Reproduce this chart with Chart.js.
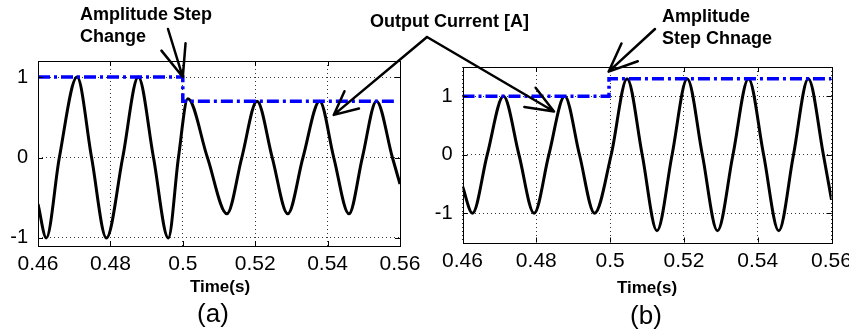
<!DOCTYPE html>
<html>
<head>
<meta charset="utf-8">
<script src="https://cdn.jsdelivr.net/npm/chart.js@4.4.1/dist/chart.umd.min.js"></script>
<style>
  html, body { margin: 0; padding: 0; background: #fff; }
  #wrap { position: relative; width: 849px; height: 335px; overflow: hidden; background: #fff; }
  #wrap canvas { position: absolute; left: 0; top: 0; }
</style>
</head>
<body>
<div id="wrap">
  <canvas id="chartA" width="849" height="335"></canvas>
  <canvas id="chartB" width="849" height="335"></canvas>
  <canvas id="notes" width="849" height="335"></canvas>
</div>
<script>
var timeTicks = [0.46, 0.48, 0.5, 0.52, 0.54, 0.56];
var timeTickLabels = ['0.46', '0.48', '0.5', '0.52', '0.54', '0.56'];
var currentTicks = [-1, 0, 1];

// (a) amplitude steps down at t = 0.5 s
var timeA = [0.46, 0.4623, 0.4659, 0.4708, 0.4748, 0.4789, 0.4834, 0.4877, 0.4919, 0.4960,
             0.4988, 0.5014, 0.5068, 0.5122, 0.5163, 0.5205, 0.5247, 0.5290, 0.5332, 0.5378,
             0.5417, 0.5459, 0.5496, 0.5535, 0.5579, 0.56];
var currentA = [-0.58, -1.0, 0, 1.0, 0, -1.0, 0, 1.0, 0, -1.0,
                0, 0.73, 0, -0.70, 0, 0.70, 0, -0.70, 0, 0.70,
                0, -0.70, 0, 0.70, 0, -0.33];
var refTimeA = [0.46, 0.5, 0.5, 0.559];
var refA = [1, 1, 0.7, 0.7];

// (b) amplitude steps up at t = 0.5 s
var timeB = [0.46, 0.4627, 0.4667, 0.4711, 0.4753, 0.4794, 0.4834, 0.4877, 0.4917, 0.4958,
             0.5003, 0.5046, 0.5087, 0.5127, 0.5168, 0.5209, 0.5250, 0.5291, 0.5333, 0.5375,
             0.5416, 0.5457, 0.5497, 0.5537, 0.5578, 0.56];
var currentB = [-0.54, -1.0, 0, 1.0, 0, -1.0, 0, 1.0, 0, -1.0,
                0, 1.3, 0, -1.3, 0, 1.3, 0, -1.3, 0, 1.3,
                0, -1.3, 0, 1.3, 0, -0.77];
var refTimeB = [0.46, 0.4997, 0.4997, 0.56];
var refB = [1, 1, 1.3, 1.3];

var FONT = 'Arial, "Liberation Sans", sans-serif';

function points(xs, ys) {
    return xs.map(function(x, i) { return { x: x, y: ys[i] }; });
}

// matlab style box with inward ticks
var frame = {
    id: 'frame',
    afterDraw: function(chart) {
        var ctx = chart.ctx, a = chart.chartArea;
        var sx = chart.scales.x, sy = chart.scales.y;
        ctx.save();
        ctx.strokeStyle = '#000';
        ctx.lineWidth = 1;
        ctx.strokeRect(Math.round(a.left) + 0.5, Math.round(a.top) + 0.5,
                       Math.round(a.right - a.left), Math.round(a.bottom - a.top));
        ctx.beginPath();
        timeTicks.forEach(function(t) {
            var x = Math.round(sx.getPixelForValue(t)) + 0.5;
            ctx.moveTo(x, a.bottom); ctx.lineTo(x, a.bottom - 5);
            ctx.moveTo(x, a.top); ctx.lineTo(x, a.top + 5);
        });
        currentTicks.forEach(function(v) {
            var y = Math.round(sy.getPixelForValue(v)) + 0.5;
            ctx.moveTo(a.left, y); ctx.lineTo(a.left + 5, y);
            ctx.moveTo(a.right, y); ctx.lineTo(a.right - 5, y);
        });
        ctx.stroke();
        ctx.restore();
    }
};

function makeChart(id, t, i, rt, r, yMin, yMax, box) {
    return new Chart(document.getElementById(id), {
        type: 'line',
        data: {
            datasets: [{
                data: points(rt, r),
                borderColor: '#0000ff',
                borderWidth: 3.5,
                borderDash: [12, 4, 3, 4],
                pointRadius: 0,
                tension: 0
            }, {
                data: points(t, i),
                borderColor: '#000',
                borderWidth: 3,
                pointRadius: 0,
                cubicInterpolationMode: 'monotone'
            }]
        },
        plugins: [frame],
        options: {
            responsive: false,
            animation: false,
            devicePixelRatio: 1,
            layout: { padding: { left: box.padLeft, top: box.top, right: box.padRight, bottom: 0 } },
            plugins: { legend: { display: false }, tooltip: { enabled: false } },
            scales: {
                x: {
                    type: 'linear',
                    min: 0.46,
                    max: 0.56,
                    afterBuildTicks: function(s) {
                        s.ticks = timeTicks.map(function(v) { return { value: v }; });
                    },
                    afterFit: function(s) {
                        s.height = box.xHeight;
                        s.paddingLeft = 0; s.paddingRight = 0;
                    },
                    ticks: {
                        callback: function(v) { return timeTickLabels[timeTicks.indexOf(v)]; },
                        font: { family: FONT, size: 21 },
                        color: '#000',
                        padding: 6,
                        maxRotation: 0,
                        autoSkip: false
                    },
                    grid: { color: '#333', drawTicks: false },
                    border: { display: false, dash: [1, 3] }
                },
                y: {
                    min: yMin,
                    max: yMax,
                    afterBuildTicks: function(s) {
                        s.ticks = currentTicks.map(function(v) { return { value: v }; });
                    },
                    afterFit: function(s) {
                        s.width = box.yWidth;
                        s.paddingTop = 0; s.paddingBottom = 0;
                    },
                    ticks: {
                        font: { family: FONT, size: 20 },
                        color: '#000',
                        padding: 10
                    },
                    grid: { color: '#333', drawTicks: false },
                    border: { display: false, dash: [1, 3] }
                }
            }
        }
    });
}

var chartA = makeChart('chartA', timeA, currentA, refTimeA, refA, -1.1, 1.2,
    { padLeft: 0, padRight: 449, top: 61, xHeight: 89, yWidth: 38 });
var chartB = makeChart('chartB', timeB, currentB, refTimeB, refB, -1.5, 1.5,
    { padLeft: 420, padRight: 17.5, top: 67, xHeight: 92.5, yWidth: 42.5 });

// annotations: text and arrows, tips placed in data space
function px(chart, x, y) {
    return [chart.scales.x.getPixelForValue(x), chart.scales.y.getPixelForValue(y)];
}

function arrow(ctx, x0, y0, tip, len, ang) {
    var x1 = tip[0], y1 = tip[1];
    var a = Math.atan2(y0 - y1, x0 - x1);
    ctx.beginPath();
    ctx.moveTo(x0, y0);
    ctx.lineTo(x1, y1);
    ctx.moveTo(x1 + len * Math.cos(a + ang), y1 + len * Math.sin(a + ang));
    ctx.lineTo(x1, y1);
    ctx.lineTo(x1 + len * Math.cos(a - ang), y1 + len * Math.sin(a - ang));
    ctx.stroke();
}

var ctx = document.getElementById('notes').getContext('2d');
ctx.fillStyle = '#000';
ctx.strokeStyle = '#000';
ctx.lineWidth = 2.5;
ctx.lineCap = 'round';
ctx.lineJoin = 'round';
ctx.textBaseline = 'middle';

ctx.font = 'bold 18px ' + FONT;
ctx.textAlign = 'left';
ctx.fillText('Amplitude Step', 80, 15);
ctx.fillText('Change', 80, 37);
ctx.fillText('Output Current [A]', 370, 22);
ctx.fillText('Amplitude', 662, 17);
ctx.fillText('Step Chnage', 662, 39);

arrow(ctx, 168, 29, px(chartA, 0.5, 1), 34, 0.38);
arrow(ctx, 427, 37, px(chartA, 0.5417, 0.53), 26, 0.45);
arrow(ctx, 427, 37, px(chartB, 0.4848, 0.74), 30, 0.38);
arrow(ctx, 655, 29, px(chartB, 0.4996, 1.42), 31, 0.4);

ctx.textAlign = 'center';
ctx.font = 'bold 17px ' + FONT;
ctx.fillText('Time(s)', 220, 287);
ctx.fillText('Time(s)', 647, 288);
ctx.font = '26px ' + FONT;
ctx.fillText('(a)', 213, 315);
ctx.fillText('(b)', 646, 317);
</script>
</body>
</html>
